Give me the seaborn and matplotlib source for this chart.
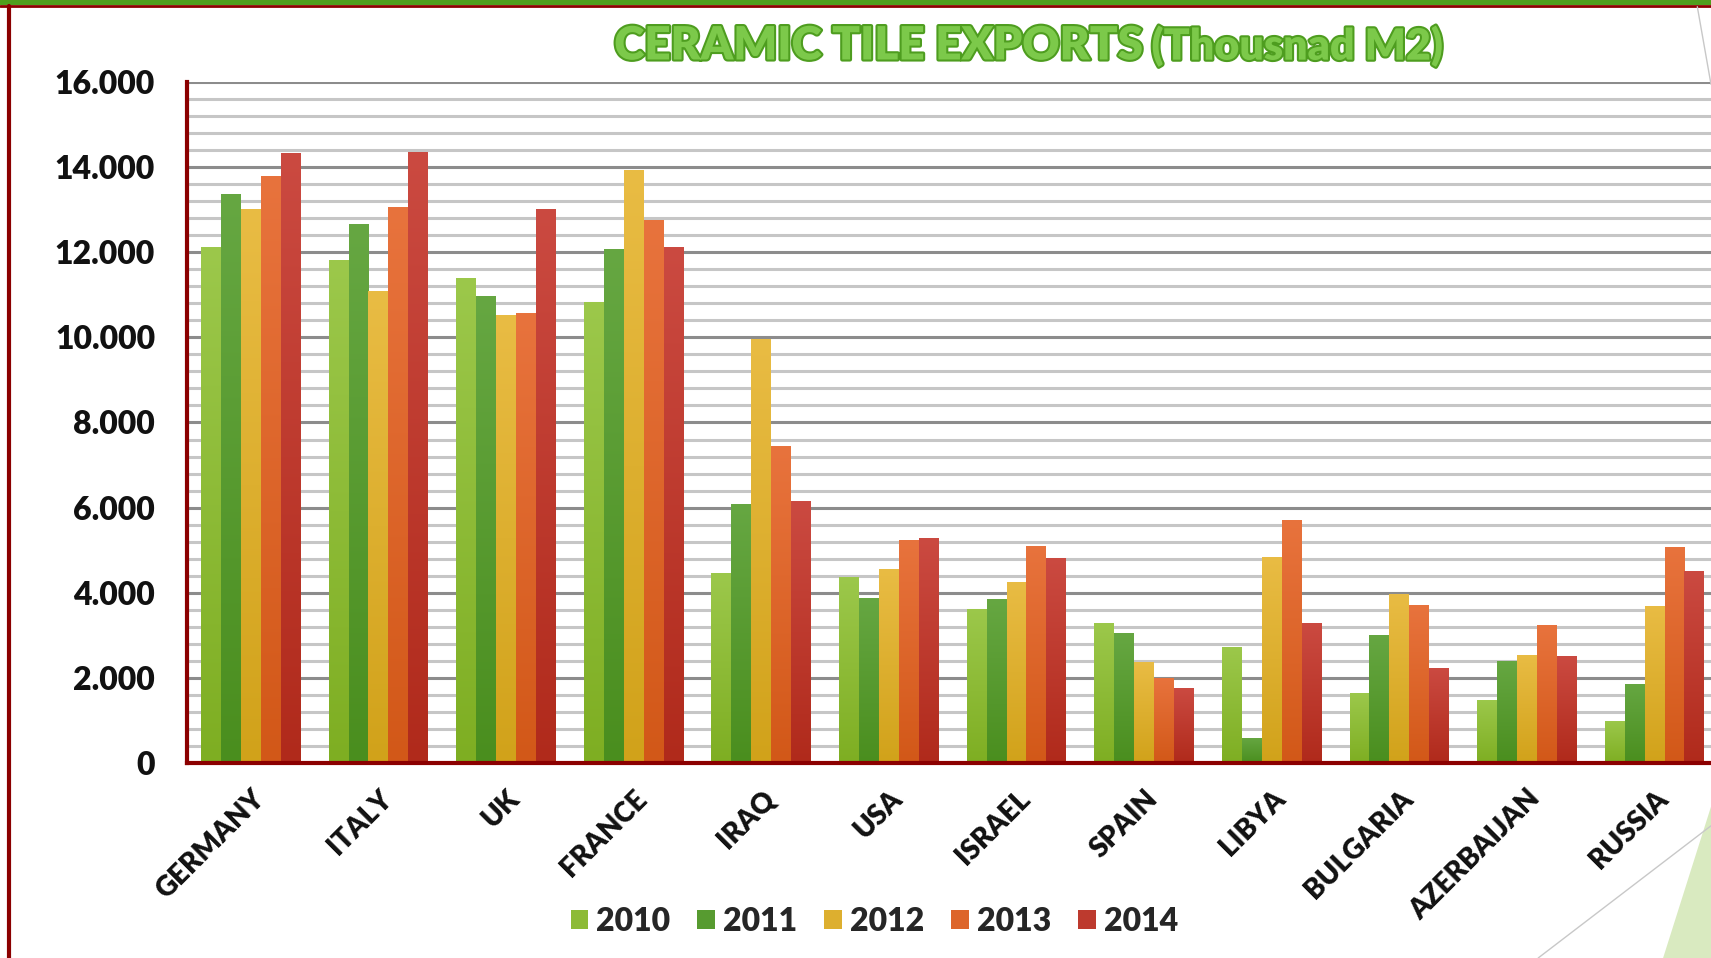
import numpy as np
import pandas as pd
import seaborn as sns
import matplotlib.pyplot as plt
from matplotlib.colors import LinearSegmentedColormap, to_hex
from matplotlib.lines import Line2D
from matplotlib.patches import Patch, Polygon, Rectangle
from matplotlib.ticker import MultipleLocator, FuncFormatter
import matplotlib.patheffects as pe

countries = ["GERMANY", "ITALY", "UK", "FRANCE", "IRAQ", "USA", "ISRAEL",
             "SPAIN", "LIBYA", "BULGARIA", "AZERBAIJAN", "RUSSIA"]
years = ["2010", "2011", "2012", "2013", "2014"]

exp_2010 = [12120, 11820, 11400, 10830, 4460, 4370, 3620, 3290, 2730, 1640, 1480, 990]
exp_2011 = [13370, 12660, 10970, 12080, 6080, 3870, 3850, 3050, 590, 3010, 2400, 1860]
exp_2012 = [13020, 11090, 10530, 13930, 9970, 4560, 4250, 2370, 4840, 3970, 2540, 3690]
exp_2013 = [13800, 13060, 10570, 12760, 7440, 5230, 5100, 2000, 5710, 3710, 3240, 5080]
exp_2014 = [14330, 14360, 13020, 12120, 6150, 5280, 4820, 1760, 3290, 2230, 2510, 4510]

# top / bottom colour of each series (bars have a vertical gradient)
top_cols = ["#9cc84b", "#66a742", "#e9bc44", "#e8733d", "#cb4a41"]
bot_cols = ["#7eae22", "#4a8e1e", "#d1a21a", "#d25818", "#b02a1b"]
mid_cols = ["#8dbb36", "#579b30", "#ddaf2f", "#dd652a", "#bd3a2e"]

df = pd.DataFrame({
    "country": countries * 5,
    "year": [y for y in years for _ in countries],
    "value": exp_2010 + exp_2011 + exp_2012 + exp_2013 + exp_2014,
})

sns.set_theme(style="white")
plt.rcParams["font.family"] = ["Lato", "DejaVu Sans"]

dark_red = "#8b0000"
fig = plt.figure(figsize=(17.11, 9.58), dpi=100)
ax = fig.add_axes([0.1093, 0.2035, 0.895, 0.711])

sns.barplot(data=df, x="country", y="value", hue="year", order=countries,
            hue_order=years, palette=mid_cols, width=0.78, saturation=1,
            linewidth=0, legend=False, ax=ax)

# gradient fill for each bar
grad = np.linspace(1, 0, 256).reshape(-1, 1)
cmaps = {to_hex(m): LinearSegmentedColormap.from_list("g", [b, t])
         for m, t, b in zip(mid_cols, top_cols, bot_cols)}
for bar in list(ax.patches):
    h = bar.get_height()
    if h <= 0:
        continue
    cm = cmaps.get(to_hex(bar.get_facecolor()))
    x0 = bar.get_x()
    im = ax.imshow(grad, extent=[x0, x0 + bar.get_width(), 0, h], aspect="auto",
                   cmap=cm, vmin=0, vmax=1, zorder=bar.get_zorder())
    im.set_clip_path(bar)

ax.set_xlim(-0.5, len(countries) - 0.5)
ax.set_ylim(0, 16000)
ax.set_xlabel("")
ax.set_ylabel("")

# grid
ax.set_axisbelow(True)
ax.yaxis.set_major_locator(MultipleLocator(2000))
ax.yaxis.set_minor_locator(MultipleLocator(400))
ax.grid(axis="y", which="major", color="#8c8c8c", linewidth=2.2)
ax.grid(axis="y", which="minor", color="#c6c6c6", linewidth=2.2)
ax.grid(axis="x", visible=False)
ax.yaxis.set_major_formatter(FuncFormatter(lambda v, p: f"{int(v):,}".replace(",", ".")))

for s in ["top", "right"]:
    ax.spines[s].set_visible(False)
for s in ["left", "bottom"]:
    ax.spines[s].set_color(dark_red)
    ax.spines[s].set_linewidth(3)

ax.tick_params(axis="y", which="major", direction="out", length=7, width=3,
               color=dark_red, labelsize=23, pad=16)
ax.tick_params(axis="y", which="minor", length=0)
for t in ax.get_yticklabels():
    t.set_fontweight("heavy")
    t.set_color("#111111")

# x: labels at group centres, tick marks at group boundaries
ax.set_xticks(range(len(countries)))
ax.set_xticklabels(countries, rotation=45, ha="right", rotation_mode="anchor",
                   fontsize=20, fontweight="heavy", color="#111111")
ax.set_xticks(np.arange(-0.5, len(countries), 1), minor=True)
ax.tick_params(axis="x", which="major", length=0, pad=16)
ax.tick_params(axis="x", which="minor", direction="out", length=8, width=3,
               color=dark_red)

# legend
handles = [Patch(facecolor=c, edgecolor="none") for c in mid_cols]
fig.legend(handles, years, loc="center", bbox_to_anchor=(0.511, 0.038),
           ncol=5, frameon=False, handlelength=0.55,
           handleheight=0.55, handletextpad=0.25, columnspacing=0.85,
           prop={"weight": "heavy", "size": 23})

# title
fx = [pe.withStroke(linewidth=3, foreground="#4e9d1f")]
fig.text(0.359, 0.952, "CERAMIC TILE EXPORTS", fontsize=33, fontweight="heavy",
         color="#7cc94a", ha="left", va="center", path_effects=fx)
fig.text(0.673, 0.952, "(Thousnad M2)", fontsize=31, fontweight="heavy",
         color="#7cc94a", ha="left", va="center", path_effects=fx)

# slide decoration
fig.patches.append(Rectangle((0, 0.9945), 1, 0.0055, transform=fig.transFigure,
                             facecolor="#4f9e1d", edgecolor="none"))
fig.lines.append(Line2D([0, 1], [0.9935, 0.9935], transform=fig.transFigure,
                        color=dark_red, linewidth=2))
fig.lines.append(Line2D([0.0055, 0.0055], [0, 0.9935], transform=fig.transFigure,
                        color=dark_red, linewidth=3))
fig.lines.append(Line2D([0.992, 1.0], [0.993, 0.912], transform=fig.transFigure,
                        color="#c8c8c8", linewidth=1))
fig.lines.append(Line2D([0.899, 1.0], [0.0, 0.138], transform=fig.transFigure,
                        color="#c8c8c8", linewidth=1))
fig.patches.append(Polygon([(1.0, 0.158), (0.972, 0.0), (1.0, 0.0)], closed=True,
                           transform=fig.transFigure, facecolor="#d9eac0",
                           edgecolor="none"))

fig.savefig("out.png", dpi=100)
